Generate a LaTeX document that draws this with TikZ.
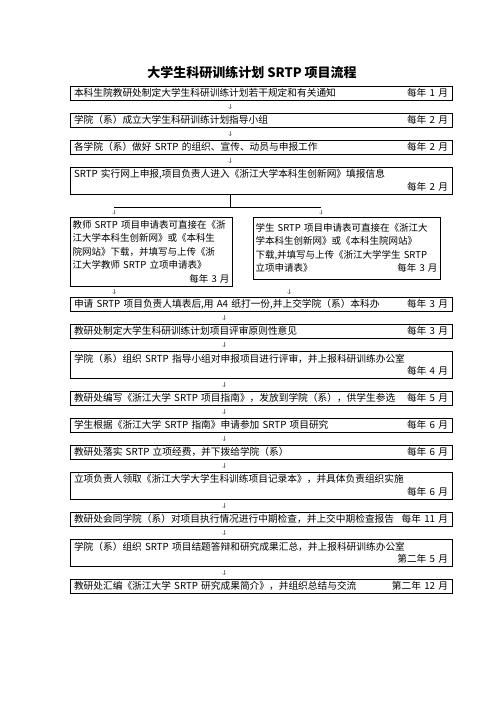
\documentclass[tikz,border=0pt]{standalone}
\usepackage{fontspec}
\setmainfont{Noto Sans CJK SC}
\usetikzlibrary{positioning}

\newcommand{\inmonth}[1]{\hspace*{\fill}#1}

\tikzset{
  stepbox/.style={draw, line width=0.9pt, outer sep=0pt, text width=374pt, inner xsep=4pt,
    inner ysep=1pt, minimum height=14pt, align=left,
    font=\fontsize{9.7pt}{12.5pt}\selectfont},
  twoline/.style={stepbox, minimum height=27pt},
  colbox/.style={stepbox, text width=#1, inner xsep=2.5pt, font=\fontsize{9.5pt}{13.5pt}\selectfont},
  flow/.style={->, gray, line width=0.4pt, shorten <=4pt, shorten >=4pt},
  forkline/.style={line width=0.9pt},
}

\begin{document}
\begin{tikzpicture}[x=1pt, y=-1pt, node distance=13pt]
\useasboundingbox (0,0) rectangle (496,702);
\node (title) at (252,73) {\fontsize{13pt}{15pt}\selectfont\bfseries 大学生科研训练计划 SRTP 项目流程};
% columns of the small arrows
\coordinate (ax) at (230,0);
\coordinate (bx) at (224,0);
\coordinate (lx) at (114,0);
\coordinate (rx) at (321,0);
\coordinate (mx) at (289,0);
% steps
\node (b1)[stepbox, anchor=north west] at (70,86) {本科生院教研处制定大学生科研训练计划若干规定和有关通知\inmonth{每年 1 月}};
\node (b2)[stepbox, below=of b1] {学院（系）成立大学生科研训练计划指导小组\inmonth{每年 2 月}};
\node (b3)[stepbox, below=of b2] {各学院（系）做好 SRTP 的组织、宣传、动员与申报工作\inmonth{每年 2 月}};
\node (b4)[twoline, below=of b3] {SRTP 实行网上申报,项目负责人进入《浙江大学本科生创新网》填报信息\\\inmonth{每年 2 月}};
\coordinate[below=13pt of b4.south] (fork);
\node (colL)[colbox=157pt, minimum height=69pt, below=23pt of b4.south west, anchor=north west] {\mbox{教师 SRTP 项目申请表可直接在《浙}\\江大学本科生创新网》或《本科生\\院网站》下载，并填写与上传《浙\\江大学教师 SRTP 立项申请表》\\\inmonth{每年 3 月}\hspace*{1.2em}};
\node (colR)[colbox=182pt, minimum height=62pt, right=21pt of colL.north east, anchor=north west] {\mbox{学生 SRTP 项目申请表可直接在《浙江大}\\学本科生创新网》或《本科生院网站》\\\mbox{下载,并填写与上传《浙江大学学生 SRTP}\\立项申请表》\inmonth{每年 3 月}};
\node (b5)[stepbox, below=11pt of colL.south west, anchor=north west] {申请 SRTP 项目负责人填表后,用 A4 纸打一份,并上交学院（系）本科办\inmonth{每年 3 月}};
\node (b6)[stepbox, below=of b5] {教研处制定大学生科研训练计划项目评审原则性意见\inmonth{每年 3 月}};
\node (b7)[twoline, below=of b6] {学院（系）组织 SRTP 指导小组对申报项目进行评审，并上报科研训练办公室\\\inmonth{每年 4 月}};
\node (b8)[stepbox, below=of b7] {教研处编写《浙江大学 SRTP 项目指南》，发放到学院（系），供学生参选\inmonth{每年 5 月}};
\node (b9)[stepbox, below=of b8] {学生根据《浙江大学 SRTP 指南》申请参加 SRTP 项目研究\inmonth{每年 6 月}};
\node (b10)[stepbox, below=of b9] {教研处落实 SRTP 立项经费，并下拨给学院（系）\inmonth{每年 6 月}};
\node (b11)[twoline, below=of b10] {立项负责人领取《浙江大学大学生科训练项目记录本》，并具体负责组织实施\\\inmonth{每年 6 月}};
\node (b12)[stepbox, below=of b11] {教研处会同学院（系）对项目执行情况进行中期检查，并上交中期检查报告 \inmonth{每年 11 月}};
\node (b13)[twoline, below=of b12] {学院（系）组织 SRTP 项目结题答辩和研究成果汇总，并上报科研训练办公室\\\inmonth{第二年 5 月}};
\node (b14)[stepbox, below=of b13] {教研处汇编《浙江大学 SRTP 研究成果简介》，并组织总结与交流\inmonth{第二年 12 月}};
% arrows
\draw[flow] (b1.south -| ax) -- (b2.north -| ax);
\draw[flow] (b2.south -| ax) -- (b3.north -| ax);
\draw[flow] (b3.south -| ax) -- (b4.north -| ax);
\draw[forkline] (b4.south -| ax) -- (fork -| ax);
\draw[forkline] (fork -| lx) -- (fork -| rx);
\draw[flow, shorten <=3pt, shorten >=2.5pt] (fork -| lx) -- (colL.north -| lx);
\draw[flow, shorten <=3pt, shorten >=2.5pt] (fork -| rx) -- (colR.north -| rx);
\draw[flow, shorten <=3pt, shorten >=3pt] (colL.south -| lx) -- (b5.north -| lx);
\draw[flow, shorten <=10pt, shorten >=3pt] (colR.south -| mx) -- (b5.north -| mx);
\draw[flow] (b5.south -| bx) -- (b6.north -| bx);
\draw[flow] (b6.south -| bx) -- (b7.north -| bx);
\draw[flow] (b7.south -| bx) -- (b8.north -| bx);
\draw[flow] (b8.south -| bx) -- (b9.north -| bx);
\draw[flow] (b9.south -| bx) -- (b10.north -| bx);
\draw[flow] (b10.south -| bx) -- (b11.north -| bx);
\draw[flow] (b11.south -| bx) -- (b12.north -| bx);
\draw[flow] (b12.south -| bx) -- (b13.north -| bx);
\draw[flow] (b13.south -| bx) -- (b14.north -| bx);
\end{tikzpicture}
\end{document}
